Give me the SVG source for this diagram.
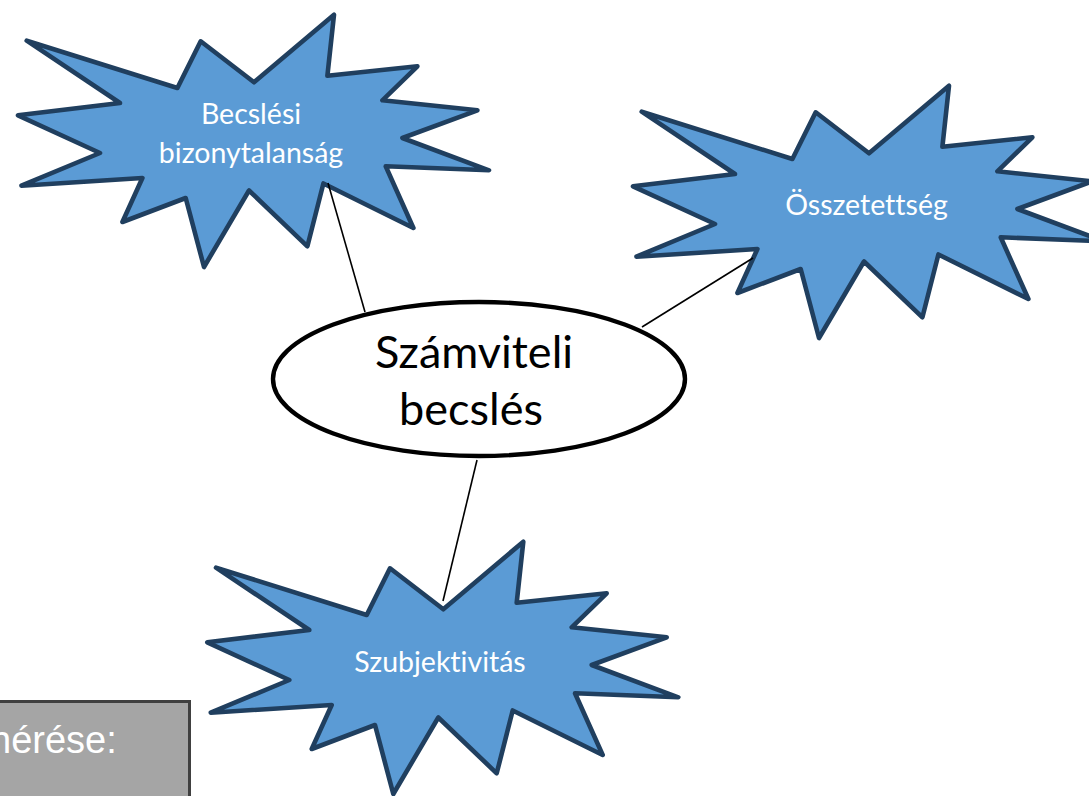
<svg xmlns="http://www.w3.org/2000/svg" xmlns:xlink="http://www.w3.org/1999/xlink" width="1089" height="796" viewBox="0 0 1089 796">
  <style>
    .burst { fill: #5b9bd5; stroke: #203f5f; stroke-width: 4.6; stroke-linejoin: round; }
    .burst-label { font-family: Lato, "Open Sans", sans-serif; font-size: 28.5px; fill: #ffffff; text-anchor: middle; font-variant-ligatures: none; }
    .core { fill: #ffffff; stroke: #000000; stroke-width: 4.4; }
    .core-label { font-family: Lato, "Open Sans", sans-serif; font-size: 45px; fill: #000000; text-anchor: middle; font-variant-ligatures: none; }
    .link { stroke: #000000; stroke-width: 1.6; fill: none; }
    .note-box { fill: #a5a5a5; stroke: #404040; stroke-width: 3; }
    .note-label { font-family: "Liberation Sans", Arial, sans-serif; font-size: 38px; fill: #ffffff; }
  </style>
  <defs>
    <!-- explosion outline, local coordinates -->
    <path id="burst-shape" class="burst" d="M26,37.7 L176.7,85 L200,38.3 L253.3,79.3 L333.3,11.7 L326.7,72.7 L416.7,63.3 L381.7,97.3 L476.7,107.3 L401.7,135 L488.3,167.3 L385,163.3 L412.7,225 L322.7,180.5 L306.7,243.3 L248.3,187.5 L203.3,264 L185,195 L121.7,219 L141.7,175 L20.7,182.7 L99.3,150 L17.3,112.3 L119.3,100 Z"/>
  </defs>

  <rect width="1089" height="796" fill="#ffffff"/>

  <!-- gray side box, running off the left and bottom edges -->
  <g id="note">
    <rect class="note-box" x="-10" y="701.5" width="199.5" height="110"/>
    <text class="note-label" x="-10" y="753">nérése:</text>
  </g>

  <g id="node-bizonytalansag">
    <use xlink:href="#burst-shape" href="#burst-shape" transform="translate(0.7,3)"/>
    <text class="burst-label" x="251" y="124">Becslési</text>
    <text class="burst-label" x="251" y="163">bizonytalanság</text>
  </g>

  <g id="node-osszetettseg">
    <use xlink:href="#burst-shape" href="#burst-shape" transform="translate(615.7,74)"/>
    <text class="burst-label" x="866.5" y="215">Összetettség</text>
  </g>

  <g id="node-szubjektivitas">
    <use xlink:href="#burst-shape" href="#burst-shape" transform="translate(190,530)"/>
    <text class="burst-label" x="440" y="672">Szubjektivitás</text>
  </g>

  <g id="node-szamviteli-becsles">
    <ellipse class="core" cx="479" cy="379" rx="206" ry="77"/>
    <text class="core-label" x="474" y="368">Számviteli</text>
    <text class="core-label" x="471" y="425">becslés</text>
  </g>

  <g id="connectors">
    <line class="link" x1="328" y1="183" x2="365" y2="312"/>
    <line class="link" x1="753" y1="258" x2="642" y2="327"/>
    <line class="link" x1="477" y1="460" x2="443" y2="601"/>
  </g>
</svg>
